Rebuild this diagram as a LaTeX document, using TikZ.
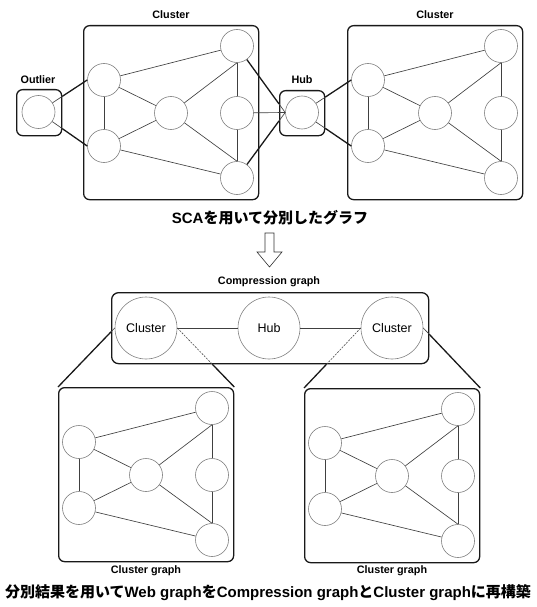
\documentclass[tikz,border=0pt]{standalone}
\usepackage{fontspec}
\setmainfont{Liberation Sans}
\newfontfamily\cjk{Noto Sans CJK JP}
\newcommand\mkcl[3]{%
  \node[grpbox,minimum width=175pt,minimum height=174pt] (#1box) at (#2,#3) {};
  \begin{scope}[shift={(#2,#3)}]
    \node[vtx] (#1TL) at (21,55) {};
    \node[vtx] (#1BL) at (21,121) {};
    \node[vtx] (#1C)  at (88,88) {};
    \node[vtx] (#1TR) at (154,21) {};
    \node[vtx] (#1MR) at (154,88) {};
    \node[vtx] (#1BR) at (154,153) {};
  \end{scope}
  \draw[edge] (#1TL) -- (#1BL);
  \draw[edge] (#1TL) -- (#1C);
  \draw[edge] (#1TL) -- (#1TR);
  \draw[edge] (#1BL) -- (#1C);
  \draw[edge] (#1BL) -- (#1BR);
  \draw[edge] (#1C) -- (#1TR.south);
  \draw[edge] (#1C) -- (#1BR.north);
  \draw[edge] (#1TR) -- (#1MR);
  \draw[edge] (#1MR) -- (#1BR);
}
\begin{document}
\begin{tikzpicture}[x=1pt,y=-1pt,
  vtx/.style={circle,draw=black!50,line width=0.6pt,minimum size=33pt,inner sep=0pt,fill=white},
  bigv/.style={circle,draw=black!50,line width=0.6pt,minimum size=62pt,inner sep=0pt,fill=white,font=\fontsize{12.5}{14}\selectfont},
  grpbox/.style={draw=black!90,line width=1.3pt,rounded corners=6pt,inner sep=0pt,anchor=north west},
  edge/.style={draw=black!75,line width=0.65pt},
  link/.style={draw=black!90,line width=1.3pt},
  dashlink/.style={draw=black!70,line width=0.6pt,dash pattern=on 2pt off 1.2pt},
  lbl/.style={font=\bfseries\fontsize{10.8}{13}\selectfont},
]
\fill[white] (0,0) rectangle (537,607);
\useasboundingbox (0,0) rectangle (537,607);

% ---------- top: graph partitioned by SCA ----------
\node[lbl] (lcl) at (171,15) {Cluster};
\node[lbl] (rcl) at (435,15) {Cluster};
\node[lbl] (olbl) at (38,80) {Outlier};
\node[lbl] (hlbl) at (302,80) {Hub};

\mkcl{l}{83}{25}
\mkcl{r}{347}{25}

\node[grpbox,minimum width=45pt,minimum height=46pt] (ob) at (16,89) {};
\node[vtx] (O) at (38.5,112) {};
\node[grpbox,minimum width=45pt,minimum height=45pt] (hb) at (279,90) {};
\node[vtx] (H) at (302,112.5) {};

% outlier links
\coordinate (o1) at (intersection of O--lTL.west and ob.north east--ob.south east);
\coordinate (o2) at (intersection of O--lBL.west and ob.north east--ob.south east);
\draw[edge] (O) -- (o1); \draw[link] (o1) -- (lTL.west);
\draw[edge] (O) -- (o2); \draw[link] (o2) -- (lBL.west);

% hub links
\coordinate (h1) at (intersection of lTR--H.west and hb.north west--hb.south west);
\coordinate (h2) at (intersection of lBR--H.west and hb.north west--hb.south west);
\draw[link] (lTR) -- (h1); \draw[edge] (h1) -- (H.west);
\draw[link] (lBR) -- (h2); \draw[edge] (h2) -- (H.west);
\draw[edge] (lMR) -- (H.west);
\coordinate (h3) at (intersection of H--rTL.west and hb.north east--hb.south east);
\coordinate (h4) at (intersection of H--rBL.west and hb.north east--hb.south east);
\draw[edge] (H) -- (h3); \draw[link] (h3) -- (rTL.west);
\draw[edge] (H) -- (h4); \draw[link] (h4) -- (rBL.west);

\node (t1) at (270,218) {\bfseries\fontsize{15}{17}\selectfont SCA{\cjk を用いて分別したグラフ}};

% hollow arrow
\draw[draw=black!80,line width=0.6pt,fill=white] (265,233) -- (274,233) -- (274,252) -- (282,252) -- (269.5,267) -- (257,252) -- (265,252) -- cycle;

% ---------- compression graph ----------
\node[lbl] (clbl) at (269,282) {Compression graph};
\node[grpbox,rounded corners=7pt,minimum width=317pt,minimum height=71pt] (cb) at (111,292) {};
\node[bigv] (Lc) at (146,328) {Cluster};
\node[bigv] (Hc) at (269,328) {Hub};
\node[bigv] (Rc) at (392,328) {Cluster};
\draw[edge] (Lc) -- (Hc);
\draw[edge] (Hc) -- (Rc);

\mkcl{a}{58}{387}
\mkcl{b}{304}{388}
\node[lbl] (albl) at (146,571) {Cluster graph};
\node[lbl] (blbl) at (392,571) {Cluster graph};

\coordinate (c1) at (intersection of Lc.west--abox.north west and cb.north west--cb.south west);
\coordinate (c2) at (intersection of Lc.east--abox.north east and cb.south west--cb.south east);
\coordinate (c3) at (intersection of Rc.west--bbox.north west and cb.south west--cb.south east);
\coordinate (c4) at (intersection of Rc.east--bbox.north east and cb.north east--cb.south east);
\draw[edge] (Lc.west) -- (c1); \draw[link] (c1) -- (abox.north west);
\draw[dashlink] (Lc.east) -- (c2); \draw[link] (c2) -- (abox.north east);
\draw[dashlink] (Rc.west) -- (c3); \draw[link] (c3) -- (bbox.north west);
\draw[edge] (Rc.east) -- (c4); \draw[link] (c4) -- (bbox.north east);

\node (t2) at (268,593) {\bfseries\fontsize{15}{17}\selectfont {\cjk 分別結果を用いて}Web graph{\cjk を}Compression graph{\cjk と}Cluster graph{\cjk に再構築}};
\end{tikzpicture}
\end{document}
